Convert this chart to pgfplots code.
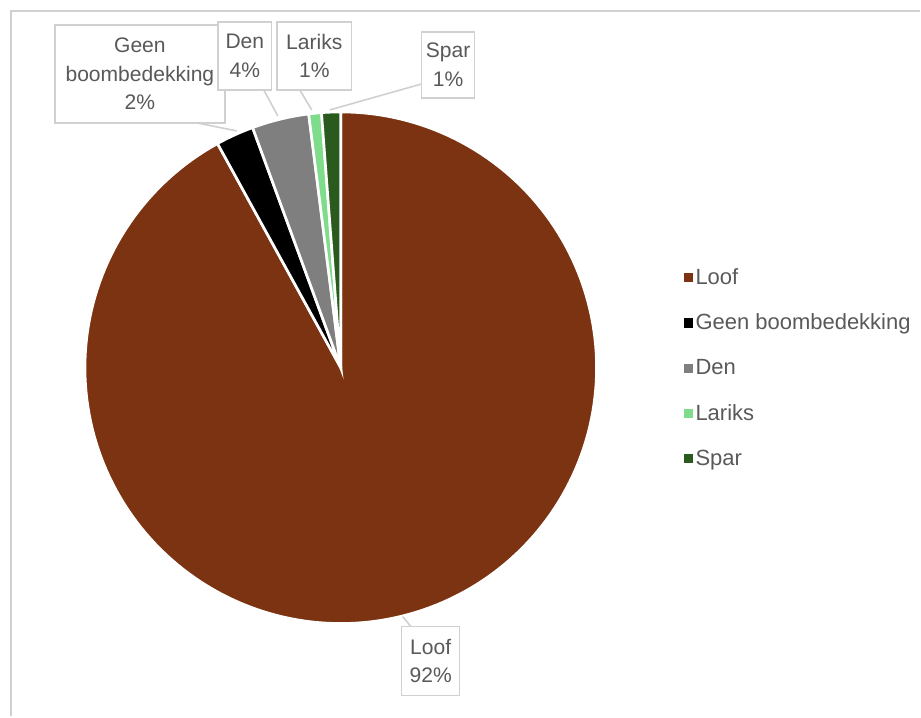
\documentclass[border=0pt]{standalone}
\usepackage{pgfplots}
\pgfplotsset{compat=1.18}
\usepackage{fontspec}
\setmainfont{Liberation Sans}
\definecolor{loof}{HTML}{7B3311}
\definecolor{geen}{HTML}{000000}
\definecolor{den}{HTML}{7F7F7F}
\definecolor{lariks}{HTML}{7EDC8A}
\definecolor{spar}{HTML}{2B5A1F}
\definecolor{txt}{HTML}{595959}
\definecolor{frame}{HTML}{D0D0D0}
% percentages
\def\pLoof{92.0}
\def\pGeen{2.4}
\def\pDen{3.6}
\def\pLariks{0.8}
\def\pSpar{1.2}
\pgfmathsetmacro\aA{\pLoof}
\pgfmathsetmacro\aB{\aA+\pGeen}
\pgfmathsetmacro\aC{\aB+\pDen}
\pgfmathsetmacro\aD{\aC+\pLariks}
\pgfmathsetmacro\aE{\aD+\pSpar}
\begin{document}
\begin{tikzpicture}
\begin{axis}[
  x=0.75pt, y=0.75pt,
  y dir=reverse,
  xmin=0, xmax=921, ymin=0, ymax=717,
  hide axis, clip=false,
  legend style={at={(axis cs:680,263)}, anchor=north west, draw=none, fill=none,
    font=\fontsize{16.5}{19}\selectfont\color{txt}, row sep=16.8pt,
    legend cell align=left, /tikz/every even column/.style={column sep=5pt}},
  legend image code/.code={\fill[#1,draw=none] (-2pt,-3.4pt) rectangle (4.8pt,3.4pt);},
]
\path (axis cs:0,0) rectangle (axis cs:921,717);
\draw[frame, line width=1pt] (axis cs:11,717) -- (axis cs:11,11) -- (axis cs:921,11);
% wedges: t in percent, clockwise from top
\addplot[fill=loof, draw=white, line width=2pt, domain=0:\aA, samples=200, variable=\t]
  ({341+256*sin(3.6*\t)}, {368-256*cos(3.6*\t)}) -- (axis cs:341,368) -- cycle;
\addlegendentry{Loof}
\addplot[fill=geen, draw=white, line width=2pt, domain=\aA:\aB, samples=10, variable=\t]
  ({341+256*sin(3.6*\t)}, {368-256*cos(3.6*\t)}) -- (axis cs:341,368) -- cycle;
\addlegendentry{Geen boombedekking}
\addplot[fill=den, draw=white, line width=2pt, domain=\aB:\aC, samples=12, variable=\t]
  ({341+256*sin(3.6*\t)}, {368-256*cos(3.6*\t)}) -- (axis cs:341,368) -- cycle;
\addlegendentry{Den}
\addplot[fill=lariks, draw=white, line width=2pt, domain=\aC:\aD, samples=5, variable=\t]
  ({341+256*sin(3.6*\t)}, {368-256*cos(3.6*\t)}) -- (axis cs:341,368) -- cycle;
\addlegendentry{Lariks}
\addplot[fill=spar, draw=white, line width=2pt, domain=\aD:\aE, samples=6, variable=\t]
  ({341+256*sin(3.6*\t)}, {368-256*cos(3.6*\t)}) -- (axis cs:341,368) -- cycle;
\addlegendentry{Spar}
% leader lines
\draw[frame, line width=1.2pt] (axis cs:197,123) -- (axis cs:237,131);
\draw[frame, line width=1.2pt] (axis cs:264,90) -- (axis cs:278,116);
\draw[frame, line width=1.2pt] (axis cs:300,90) -- (axis cs:312,110);
\draw[frame, line width=1.2pt] (axis cs:422,84) -- (axis cs:330,110);
\draw[frame, line width=1.2pt] (axis cs:403,617) -- (axis cs:412,628);
% label boxes
\tikzset{lbl/.style={draw=frame, line width=1pt, fill=white, text=txt, align=center,
  font=\fontsize{15.8}{21.5}\selectfont, inner sep=0pt}}
\node[lbl, minimum width=127.5pt, minimum height=73.5pt] at (axis cs:140,74) {Geen\\boombedekking\\2\%};
\node[lbl, minimum width=40.5pt, minimum height=51pt] at (axis cs:245,56) {Den\\4\%};
\node[lbl, minimum width=56pt, minimum height=51pt] at (axis cs:314.5,56) {Lariks\\1\%};
\node[lbl, minimum width=40pt, minimum height=49.5pt] at (axis cs:448.5,65) {Spar\\1\%};
\node[lbl, minimum width=43.5pt, minimum height=51.75pt] at (axis cs:431,661.5) {Loof\\92\%};
\end{axis}
\end{tikzpicture}
\end{document}
